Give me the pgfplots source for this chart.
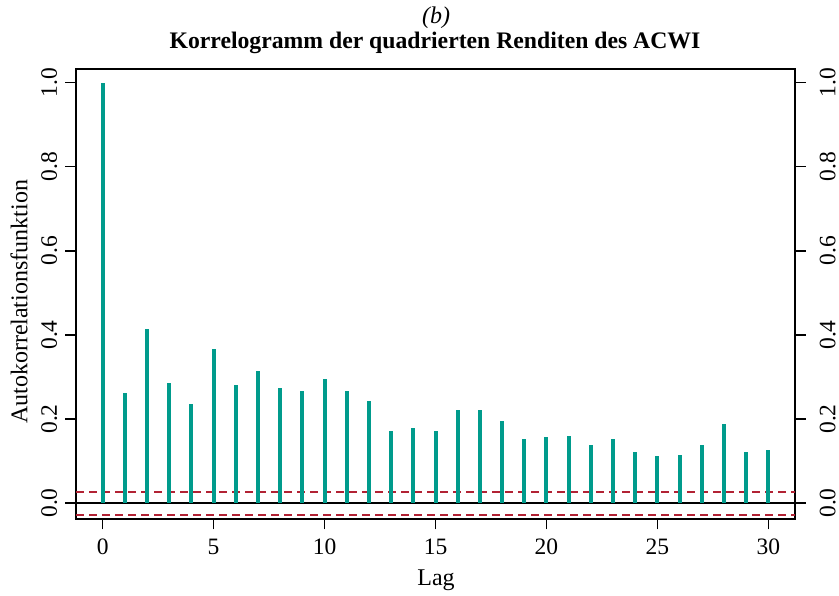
\documentclass[border=0pt]{standalone}
\usepackage{pgfplots}
\pgfplotsset{compat=1.18}
\usepackage{fontspec}
\setmainfont{Liberation Serif}
\definecolor{acfteal}{RGB}{0,155,140}
\definecolor{konfrot}{RGB}{178,34,52}

\pgfplotstableread{
lag acf
0 1.000
1 0.262
2 0.413
3 0.285
4 0.236
5 0.366
6 0.281
7 0.314
8 0.274
9 0.267
10 0.295
11 0.267
12 0.244
13 0.171
14 0.178
15 0.171
16 0.221
17 0.221
18 0.196
19 0.152
20 0.156
21 0.160
22 0.137
23 0.152
24 0.122
25 0.112
26 0.115
27 0.137
28 0.188
29 0.122
30 0.126
}\acfdata

\begin{document}
\fontsize{24}{28}\selectfont
\begin{tikzpicture}[x=1pt,y=1pt]
\useasboundingbox (0,0) rectangle (839,596);
% main axis, 1pt = 1px of the reference
\begin{axis}[
  at={(76pt,77pt)}, anchor=south west,
  width=719pt, height=450pt, scale only axis,
  xmin=-1.2, xmax=31.2, ymin=-0.038, ymax=1.033,
  xtick={0,5,...,30}, ytick={0,0.2,0.4,0.6,0.8,1.0},
  xtick pos=left, ytick pos=both,
  tick align=outside, major tick length=10.5pt,
  tick style={black, line width=1.2pt},
  axis line style={line width=1.2pt},
  yticklabel style={rotate=90, anchor=south, /pgf/number format/.cd, fixed, fixed zerofill, precision=1},
  xticklabel style={yshift=-1pt},
  ticklabel style={font=\fontsize{23.5}{28}\selectfont},
  /pgf/number format/assume math mode=true,
  clip=false,
]
\addplot[black, line width=1.2pt] coordinates {(-1.2,0) (31.2,0)};
\addplot[draw=konfrot, line width=1.8pt, dash pattern=on 8pt off 5pt] coordinates {(-1.2,0.027) (31.2,0.027)};
\addplot[draw=konfrot, line width=1.8pt, dash pattern=on 8pt off 5pt] coordinates {(-1.2,-0.028) (31.2,-0.028)};
\addplot[ycomb, acfteal, line width=4pt, no marks] table[x=lag, y=acf] {\acfdata};
\end{axis}
% right-hand tick labels
\begin{axis}[
  at={(76pt,77pt)}, anchor=south west,
  width=719pt, height=450pt, scale only axis,
  xmin=-1.2, xmax=31.2, ymin=-0.038, ymax=1.033,
  hide x axis, axis y line*=right,
  axis line style={draw=none},
  ytick={0,0.2,0.4,0.6,0.8,1.0},
  tick align=outside, major tick length=10.5pt,
  ytick style={draw=none},
  yticklabel shift=6pt,
  yticklabel style={rotate=90, anchor=north, /pgf/number format/.cd, fixed, fixed zerofill, precision=1},
  ticklabel style={font=\fontsize{23.5}{28}\selectfont},
  /pgf/number format/assume math mode=true,
]
\addplot[draw=none] coordinates {(0,0)};
\end{axis}
\node[font=\itshape\fontsize{24}{28}\selectfont] at (436,578) {(b)};
\node[font=\bfseries\fontsize{23.7}{28}\selectfont] at (435,553) {Korrelogramm der quadrierten Renditen des ACWI};
\node[rotate=90] at (19,294) {Autokorrelationsfunktion};
\node at (436,16) {Lag};
\end{tikzpicture}
\end{document}
